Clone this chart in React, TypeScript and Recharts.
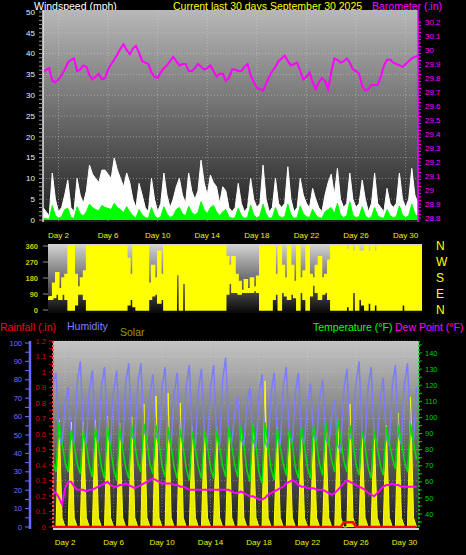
import React from 'react';
import { ComposedChart, Area, Line, XAxis, YAxis, CartesianGrid } from 'recharts';

// samples every 6 hours, from day 0 18:00 to day 31 00:00 (x = day number)
const sampleTimes = Array.from({ length: 122 }, (_, i) => 0.75 + i / 4);
const dayTicks = [2, 6, 10, 14, 18, 22, 26, 30];

// each row below is one day: 00:00, 06:00, 12:00, 18:00
const gustMph = [
  3,
  2, 1, 11.3, 5,
  2, 3, 6, 9.6,
  3, 2, 10, 6,
  4, 7, 13.2, 11,
  10, 9, 12, 12,
  11, 10, 14.9, 12,
  10, 8, 11.3, 9,
  5, 3, 8.8, 6,
  3, 2, 10, 5,
  2, 4, 11.3, 6,
  3, 5, 8, 10,
  6, 4, 11.3, 7,
  5, 7, 14.4, 9,
  6, 10.8, 9, 8,
  4, 8, 7, 3,
  2, 3, 8.8, 4,
  2, 3, 10, 5,
  3, 4, 13.2, 5,
  2, 3, 10, 4,
  3, 4, 12.8, 5,
  2, 3, 10, 6,
  4, 3, 7.6, 5,
  3, 2, 6, 9,
  11, 6, 12.4, 5,
  3, 4, 11.3, 5,
  3, 4, 9.6, 5,
  2, 4, 11.3, 4,
  3, 2, 7.6, 4,
  3, 4, 11.3, 5,
  3, 5, 12.4, 6,
  4,
];

const windMph = [
  0.5,
  0.3, 0.2, 3.5, 1.0,
  0.5, 0.8, 2.5, 2.8,
  0.6, 0.4, 3.2, 1.5,
  1.0, 2.0, 3.8, 3.0,
  2.5, 2.2, 3.5, 3.0,
  2.8, 2.5, 4.0, 3.0,
  2.5, 1.8, 3.2, 2.0,
  1.0, 0.5, 2.5, 1.2,
  0.6, 0.4, 3.0, 1.0,
  0.4, 0.8, 3.2, 1.5,
  0.6, 1.0, 2.5, 3.0,
  1.5, 1.0, 3.3, 1.8,
  1.2, 1.8, 4.4, 2.5,
  1.5, 3.0, 3.5, 2.0,
  1.0, 2.0, 2.5, 0.8,
  0.4, 0.6, 2.8, 1.0,
  0.4, 0.6, 3.6, 1.2,
  0.5, 1.0, 3.8, 1.4,
  0.4, 0.6, 3.0, 1.0,
  0.6, 0.8, 3.8, 1.2,
  0.4, 0.6, 3.4, 1.5,
  0.8, 0.6, 2.6, 1.2,
  0.6, 0.4, 2.0, 2.5,
  3.0, 1.5, 4.0, 1.2,
  0.6, 1.0, 4.4, 1.2,
  0.6, 0.8, 3.2, 1.0,
  0.4, 0.8, 3.0, 1.0,
  0.6, 0.4, 2.5, 1.0,
  0.6, 0.8, 3.4, 1.2,
  0.6, 1.0, 3.8, 1.5,
  0.8,
];

const barometer = [
  29.84,
  29.86, 29.87, 29.78, 29.77,
  29.79, 29.82, 29.86, 29.91,
  29.93, 29.94, 29.85, 29.86,
  29.89, 29.88, 29.82, 29.79,
  29.81, 29.83, 29.79, 29.8,
  29.86, 29.9, 29.93, 29.97,
  30.01, 30.04, 30.0, 29.97,
  30.01, 30.03, 29.98, 29.92,
  29.91, 29.9, 29.84, 29.81,
  29.8, 29.84, 29.87, 29.89,
  29.92, 29.95, 29.92, 29.89,
  29.9, 29.9, 29.85, 29.85,
  29.87, 29.9, 29.88, 29.86,
  29.87, 29.89, 29.85, 29.81,
  29.83, 29.83, 29.78, 29.8,
  29.86, 29.86, 29.85, 29.85,
  29.88, 29.9, 29.82, 29.77,
  29.73, 29.72, 29.71, 29.76,
  29.81, 29.85, 29.88, 29.92,
  29.94, 29.96, 29.92, 29.89,
  29.9, 29.91, 29.85, 29.79,
  29.81, 29.84, 29.77, 29.72,
  29.77, 29.8, 29.78, 29.72,
  29.84, 29.94, 29.93, 29.91,
  29.92, 29.94, 29.91, 29.86,
  29.85, 29.83, 29.74, 29.71,
  29.72, 29.75, 29.75, 29.75,
  29.81, 29.89, 29.93, 29.93,
  29.91, 29.9, 29.89, 29.88,
  29.9, 29.92, 29.94, 29.95,
  29.96,
];

// wind direction spread (degrees) inside each 6 hour slot
const dirLow = [
  60,
  60, 70, 90, 60,
  90, 60, 0, 0,
  30, 90, 90, 60,
  0, 0, 0, 0,
  0, 0, 0, 0,
  0, 0, 0, 0,
  0, 30, 60, 20,
  0, 0, 0, 0,
  60, 80, 90, 40,
  60, 0, 0, 0,
  0, 200, 0, 150,
  0, 0, 0, 0,
  0, 0, 0, 0,
  0, 0, 0, 0,
  0, 90, 150, 100,
  100, 90, 100, 100,
  100, 100, 110, 100,
  0, 0, 0, 0,
  60, 90, 0, 100,
  80, 60, 90, 70,
  0, 100, 60, 0,
  80, 140, 100, 60,
  90, 100, 60, 0,
  0, 0, 0, 0,
  20, 0, 100, 0,
  60, 30, 0, 40,
  0, 30, 0, 0,
  0, 0, 0, 0,
  0, 0, 30, 0,
  0, 0, 0, 0,
  0,
];

const dirHigh = [
  70,
  75, 150, 210, 120,
  180, 200, 360, 360,
  200, 130, 180, 220,
  360, 360, 360, 360,
  360, 360, 360, 360,
  360, 360, 360, 360,
  360, 290, 200, 360,
  360, 360, 360, 360,
  150, 250, 180, 330,
  200, 360, 360, 360,
  360, 360, 360, 360,
  360, 360, 360, 360,
  360, 360, 360, 360,
  360, 360, 360, 360,
  360, 300, 250, 300,
  200, 160, 110, 170,
  120, 180, 130, 190,
  360, 360, 360, 360,
  360, 200, 360, 250,
  180, 360, 250, 160,
  360, 180, 220, 360,
  200, 180, 250, 300,
  180, 200, 280, 360,
  360, 360, 360, 360,
  340, 360, 330, 360,
  330, 330, 360, 330,
  360, 330, 360, 360,
  360, 360, 360, 360,
  360, 360, 360, 360,
  360, 360, 360, 360,
  360,
];

const humidity = [
  65,
  78, 84, 50, 44,
  68, 76, 48, 46,
  78, 90, 52, 45,
  74, 85, 50, 46,
  76, 87, 52, 44,
  74, 85, 50, 45,
  78, 89, 50, 46,
  78, 89, 53, 47,
  72, 83, 50, 45,
  76, 87, 49, 44,
  72, 84, 51, 46,
  77, 88, 50, 44,
  75, 86, 51, 45,
  76, 88, 50, 44,
  80, 92, 52, 46,
  62, 71, 48, 44,
  66, 76, 47, 43,
  72, 83, 47, 42,
  73, 84, 49, 44,
  76, 87, 50, 45,
  73, 84, 49, 45,
  68, 78, 50, 46,
  70, 80, 48, 44,
  60, 69, 44, 41,
  75, 86, 50, 45,
  78, 90, 52, 46,
  76, 87, 50, 45,
  70, 81, 48, 44,
  77, 88, 50, 45,
  78, 89, 52, 47,
  76,
];

const temperature = [
  78,
  73, 66, 97, 84,
  72, 66, 92, 83,
  71, 65, 91, 82,
  70, 63, 93, 82,
  69, 62, 94, 81,
  68, 61, 93, 80,
  69, 62, 95, 83,
  72, 66, 96, 85,
  71, 65, 95, 84,
  70, 63, 94, 82,
  69, 62, 93, 81,
  68, 61, 91, 80,
  69, 62, 92, 81,
  69, 62, 92, 81,
  70, 63, 94, 82,
  70, 63, 95, 83,
  67, 60, 96, 82,
  66, 59, 97, 82,
  68, 61, 93, 81,
  71, 64, 92, 83,
  69, 62, 94, 82,
  69, 62, 95, 83,
  71, 64, 97, 84,
  73, 66, 99, 86,
  73, 66, 95, 84,
  71, 64, 91, 82,
  69, 62, 92, 82,
  71, 64, 94, 84,
  75, 68, 95, 85,
  73, 66, 96, 84,
  74,
];

const dewPoint = [
  55,
  54, 53, 50, 46,
  56, 60, 60, 57,
  55, 55, 55, 54,
  55, 55, 56, 57,
  58, 59, 60, 58,
  57, 57, 58, 58,
  59, 58, 57, 56,
  57, 58, 59, 60,
  61, 62, 61, 60,
  59, 59, 59, 59,
  58, 58, 57, 57,
  56, 55, 55, 55,
  55, 55, 55, 55,
  55, 55, 55, 55,
  55, 55, 55, 54,
  53, 53, 54, 53,
  52, 51, 51, 50,
  49, 49, 50, 52,
  53, 54, 55, 56,
  57, 59, 60, 61,
  60, 58, 57, 57,
  56, 56, 56, 55,
  55, 55, 54, 53,
  52, 53, 55, 57,
  59, 61, 60, 59,
  58, 57, 56, 55,
  53, 52, 51, 53,
  55, 57, 58, 58,
  59, 58, 58, 57,
  57, 57, 57, 57,
  57,
];

const solar = [
  50,
  0, 0, 690, 60,
  0, 0, 677, 60,
  0, 0, 677, 60,
  0, 0, 690, 60,
  0, 0, 716, 60,
  0, 0, 671, 60,
  0, 0, 710, 60,
  0, 0, 794, 60,
  0, 0, 845, 60,
  0, 0, 865, 60,
  0, 0, 800, 60,
  0, 0, 645, 60,
  0, 0, 639, 60,
  0, 0, 645, 60,
  0, 0, 645, 60,
  0, 0, 639, 60,
  0, 0, 665, 60,
  0, 0, 942, 60,
  0, 0, 645, 60,
  0, 0, 613, 60,
  0, 0, 613, 60,
  0, 0, 626, 60,
  0, 0, 626, 60,
  0, 0, 690, 60,
  0, 0, 794, 60,
  0, 0, 606, 60,
  0, 0, 594, 60,
  0, 0, 658, 60,
  0, 0, 735, 60,
  0, 0, 839, 60,
  0,
];

const rainfall = [
  0,
  0, 0, 0, 0,
  0, 0, 0, 0,
  0, 0, 0, 0,
  0, 0, 0, 0,
  0, 0, 0, 0,
  0, 0, 0, 0,
  0, 0, 0, 0,
  0, 0, 0, 0,
  0, 0, 0, 0,
  0, 0, 0, 0,
  0, 0, 0, 0,
  0, 0, 0, 0,
  0, 0, 0, 0,
  0, 0, 0, 0,
  0, 0, 0, 0,
  0, 0, 0, 0,
  0, 0, 0, 0,
  0, 0, 0, 0,
  0, 0, 0, 0,
  0, 0, 0, 0,
  0, 0, 0, 0,
  0, 0, 0, 0,
  0, 0, 0, 0,
  0, 0, 0, 0,
  0.03, 0.03, 0.03, 0.03,
  0, 0, 0, 0,
  0, 0, 0, 0,
  0, 0, 0, 0,
  0, 0, 0, 0,
  0, 0, 0, 0,
  0,
];

// axis ticks
const mphLabels = [0, 5, 10, 15, 20, 25, 30, 35, 40, 45, 50];
const baroLabels = [28.8, 28.9, 29, 29.1, 29.2, 29.3, 29.4, 29.5, 29.6, 29.7, 29.8, 29.9, 30, 30.1, 30.2];
const dirLabels = [0, 90, 180, 270, 360];
const compass = ['N', 'E', 'S', 'W', 'N'];
const humidityLabels = [0, 10, 20, 30, 40, 50, 60, 70, 80, 90, 100];
const rainLabels = [0, 0.1, 0.2, 0.3, 0.4, 0.5, 0.6, 0.7, 0.8, 0.9, 1, 1.1, 1.2];
const tempLabels = [40, 50, 60, 70, 80, 90, 100, 110, 120, 130, 140];

const mphTicks = Array.from({ length: 51 }, (_, i) => i);
const baroTicks = Array.from({ length: 57 }, (_, i) => Math.round((28.8 + i * 0.025) * 1000) / 1000);
const humidityTicks = Array.from({ length: 21 }, (_, i) => i * 5);
const rainTicks = Array.from({ length: 25 }, (_, i) => Math.round(i * 5) / 100);
const tempTicks = Array.from({ length: 23 }, (_, i) => 35 + i * 5);

const labelIf = (labels: number[]) => (v: number) =>
  labels.some((l) => Math.abs(l - v) < 1e-6) ? String(v) : '';

const table = sampleTimes.map((t, i) => ({
  t,
  gust: gustMph[i],
  wind: windMph[i],
  baro: barometer[i],
  dirLo: dirLow[i],
  dirHi: dirHigh[i],
  hum: humidity[i],
  temp: temperature[i],
  dew: dewPoint[i],
  solar: solar[i],
  rain: rainfall[i],
}));

const dayAxisTick = { fill: '#eef000', fontSize: 8 };

const App: React.FC = () => {
  return (
    <div
      style={{
        position: 'absolute',
        left: 0,
        top: 0,
        width: 466,
        height: 555,
        background: '#000',
        overflow: 'hidden',
        fontFamily: '"Liberation Sans", Arial, sans-serif',
      }}
    >
      <svg width={466} height={555} style={{ position: 'absolute', left: 0, top: 0 }}>
        <g fontSize={10.5}>
          <text x={34} y={10} fill="#ffffff">Windspeed (mph)</text>
          <text x={173} y={10} fill="#ffff00">Current last 30 days September 30 2025</text>
          <text x={372} y={10} fill="#ff00ff">Barometer (.in)</text>
          <text x={0} y={331} fill="#ff0000">Rainfall (.in)</text>
          <text x={67} y={330} fill="#8080ff">Humidity</text>
          <text x={120} y={336} fill="#9a9a00">Solar</text>
          <text x={313} y={331} fill="#00ff00">Temperature (°F)</text>
          <text x={395} y={331} fill="#ff00ff">Dew Point (°F)</text>
        </g>
      </svg>

      {/* wind speed + barometer */}
      <div style={{ position: 'absolute', left: 0, top: 0 }}>
        <ComposedChart width={466} height={246} data={table} margin={{ top: 10, right: 0, bottom: 0, left: 0 }}>
          <defs>
            <linearGradient id="bgTop" x1="0" y1="0" x2="0" y2="1">
              <stop offset="0%" stopColor="#b8b8b8" />
              <stop offset="100%" stopColor="#1e1e1e" />
            </linearGradient>
          </defs>
          <CartesianGrid
            yAxisId="mph"
            fill="url(#bgTop)"
            stroke="#dadada"
            strokeOpacity={0.45}
            strokeDasharray="1 2"
            horizontalValues={mphLabels.slice(1, -1)}
            verticalValues={dayTicks}
          />
          <XAxis
            dataKey="t"
            type="number"
            domain={[0.75, 31]}
            allowDataOverflow
            ticks={dayTicks}
            interval={0}
            tickFormatter={(v) => `Day ${v}`}
            height={24}
            tickSize={4}
            tickMargin={6}
            tickLine={false}
            axisLine={false}
            tick={dayAxisTick}
          />
          <YAxis
            yAxisId="mph"
            width={43}
            domain={[-0.48, 50.48]}
            allowDataOverflow
            ticks={mphTicks}
            interval={0}
            tickFormatter={labelIf(mphLabels)}
            tickSize={4}
            tickMargin={4}
            tick={{ fill: '#e2f2ff', fontSize: 8 }}
            tickLine={{ stroke: '#9a9a9a' }}
            axisLine={{ stroke: '#e8e8e8', strokeWidth: 1.5 }}
          />
          <YAxis
            yAxisId="baro"
            orientation="right"
            width={48}
            domain={[28.771, 30.286]}
            allowDataOverflow
            ticks={baroTicks}
            interval={0}
            tickFormatter={labelIf(baroLabels)}
            tickSize={3}
            tickMargin={4}
            tick={{ fill: '#ff00ff', fontSize: 8 }}
            tickLine={{ stroke: '#ff00ff' }}
            axisLine={{ stroke: '#ff00ff', strokeWidth: 1.5 }}
          />
          <Area yAxisId="mph" dataKey="gust" type="linear" stroke="#ffffff" strokeWidth={1} fill="#ffffff" fillOpacity={1} dot={false} activeDot={false} isAnimationActive={false} />
          <Area yAxisId="mph" dataKey="wind" type="linear" stroke="#00ff00" strokeWidth={1} fill="#00ff00" fillOpacity={1} dot={false} activeDot={false} isAnimationActive={false} />
          <Line yAxisId="baro" dataKey="baro" type="linear" stroke="#ff00ff" strokeWidth={2} dot={false} activeDot={false} isAnimationActive={false} />
        </ComposedChart>
      </div>

      {/* wind direction */}
      <div style={{ position: 'absolute', left: 0, top: 238 }}>
        <ComposedChart width={466} height={80} data={table} margin={{ top: 6, right: 0, bottom: 5, left: 0 }}>
          <defs>
            <linearGradient id="bgMid" x1="0" y1="0" x2="0" y2="1">
              <stop offset="0%" stopColor="#d4d4d4" />
              <stop offset="100%" stopColor="#080808" />
            </linearGradient>
          </defs>
          <CartesianGrid yAxisId="dir" fill="url(#bgMid)" stroke="none" horizontal={false} vertical={false} />
          <XAxis dataKey="t" type="number" domain={[0.75, 31]} allowDataOverflow hide />
          <YAxis
            yAxisId="dir"
            width={48}
            domain={[-16.9, 371.3]}
            allowDataOverflow
            ticks={dirLabels}
            interval={0}
            tickSize={5}
            tickMargin={5}
            tick={{ fill: '#cccc00', fontSize: 7.5, fontWeight: 'bold' }}
            tickLine={{ stroke: '#8a8a8a' }}
            axisLine={false}
          />
          <YAxis
            yAxisId="compass"
            orientation="right"
            width={44}
            domain={[-16.9, 371.3]}
            allowDataOverflow
            ticks={dirLabels}
            interval={0}
            tickFormatter={(v, i) => compass[i]}
            tickSize={0}
            tickMargin={14}
            tick={{ fill: '#ffff00', fontSize: 12 }}
            tickLine={false}
            axisLine={false}
          />
          <Area
            yAxisId="dir"
            dataKey={(d: any) => [d.dirLo, d.dirHi]}
            type="step"
            stroke="#ffff00"
            strokeWidth={1.5}
            fill="#ffff00"
            fillOpacity={1}
            dot={false}
            activeDot={false}
            isAnimationActive={false}
          />
        </ComposedChart>
      </div>

      {/* rain, humidity, solar, temperature, dew point */}
      <div style={{ position: 'absolute', left: 0, top: 330 }}>
        <ComposedChart width={466} height={225} data={table} margin={{ top: 11, right: 0, bottom: 0, left: 0 }}>
          <defs>
            <linearGradient id="bgLow" x1="0" y1="0" x2="0" y2="1">
              <stop offset="0%" stopColor="#c4c4c4" />
              <stop offset="100%" stopColor="#1c1c1c" />
            </linearGradient>
          </defs>
          <CartesianGrid
            yAxisId="a-rain"
            fill="url(#bgLow)"
            stroke="#dadada"
            strokeOpacity={0.35}
            strokeDasharray="1 2"
            horizontalValues={rainLabels.slice(1)}
            verticalValues={dayTicks}
          />
          <XAxis
            dataKey="t"
            type="number"
            domain={[1, 31.2]}
            allowDataOverflow
            ticks={dayTicks}
            interval={0}
            tickFormatter={(v) => `Day ${v}`}
            height={26}
            tickSize={4}
            tickMargin={6}
            tickLine={false}
            axisLine={{ stroke: '#d0d0d0', strokeWidth: 2 }}
            tick={dayAxisTick}
          />
          <YAxis
            yAxisId="a-rain"
            width={23}
            domain={[-0.0129, 1.2]}
            allowDataOverflow
            ticks={rainTicks}
            interval={0}
            tickFormatter={labelIf(rainLabels)}
            tickSize={4}
            tickMargin={3}
            tick={{ fill: '#dd0000', fontSize: 7.5 }}
            tickLine={{ stroke: '#dd0000' }}
            axisLine={{ stroke: '#ff5050', strokeWidth: 2, strokeDasharray: '2 2' }}
          />
          <YAxis
            yAxisId="b-hum"
            width={30}
            domain={[-1.09, 101.09]}
            allowDataOverflow
            ticks={humidityTicks}
            interval={0}
            tickFormatter={labelIf(humidityLabels)}
            tickSize={5}
            tickMargin={3}
            tick={{ fill: '#6f6fff', fontSize: 7.5 }}
            tickLine={{ stroke: '#6f6fff' }}
            axisLine={{ stroke: '#6a6aff', strokeWidth: 2.5 }}
          />
          <YAxis
            yAxisId="temp"
            orientation="right"
            width={47}
            domain={[30.68, 147.45]}
            allowDataOverflow
            ticks={tempTicks}
            interval={0}
            tickFormatter={labelIf(tempLabels)}
            tickSize={3}
            tickMargin={3}
            tick={{ fill: '#00cc00', fontSize: 7.5 }}
            tickLine={{ stroke: '#00cc00' }}
            axisLine={{ stroke: '#00dd00', strokeWidth: 1.5, strokeDasharray: '2 2' }}
          />
          <YAxis yAxisId="solar" hide domain={[-12.9, 1200]} allowDataOverflow />
          <Line yAxisId="b-hum" dataKey="hum" type="linear" stroke="#7c7cff" strokeWidth={1.5} dot={false} activeDot={false} isAnimationActive={false} />
          <Line yAxisId="temp" dataKey="temp" type="linear" stroke="#00e000" strokeWidth={1.5} dot={false} activeDot={false} isAnimationActive={false} />
          <Line yAxisId="temp" dataKey="dew" type="linear" stroke="#ff00ff" strokeWidth={2} dot={false} activeDot={false} isAnimationActive={false} />
          <Area yAxisId="solar" dataKey="solar" type="linear" stroke="#ffff00" strokeWidth={1} fill="#ffff00" fillOpacity={0.9} dot={false} activeDot={false} isAnimationActive={false} />
          <Line yAxisId="a-rain" dataKey="rain" type="linear" stroke="#ff0000" strokeWidth={2.5} dot={false} activeDot={false} isAnimationActive={false} />
        </ComposedChart>
      </div>
    </div>
  );
};

export default App;
